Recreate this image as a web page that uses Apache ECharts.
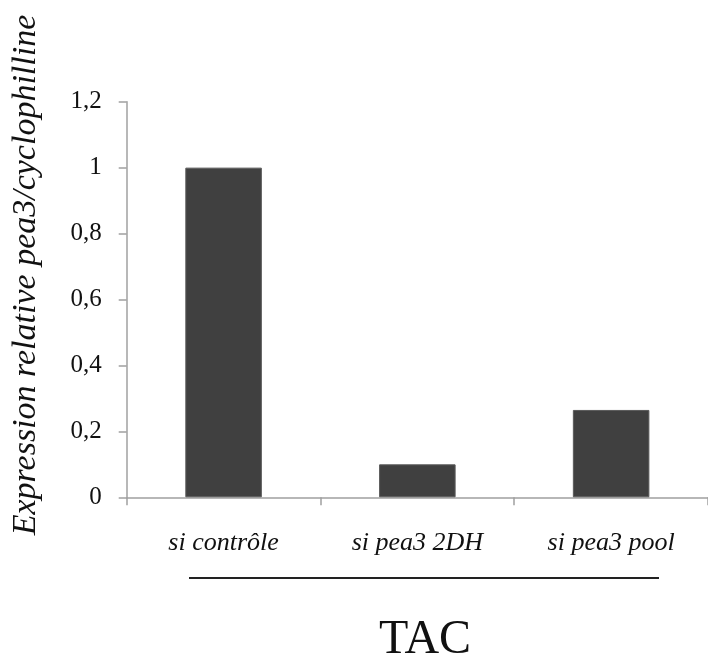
<!DOCTYPE html>
<html>
<head>
<meta charset="utf-8">
<script src="https://cdn.jsdelivr.net/npm/echarts@6/dist/echarts.min.js"></script>
<style>
html,body{margin:0;padding:0;background:#fff;}
#chart{width:708px;height:662px;}
</style>
</head>
<body>
<div id="chart"></div>
<script>
var categories = ['si contrôle', 'si pea3 2DH', 'si pea3 pool'];
var values = [1.0, 0.1, 0.265];
var yAxisTitle = 'Expression relative pea3/cyclophilline';
var groupLabel = 'TAC';

var chart = echarts.init(document.getElementById('chart'));
var serif = '"Liberation Serif", "DejaVu Serif", serif';
chart.setOption({
  animation: false,
  backgroundColor: '#ffffff',
  grid: { left: 126.7, top: 101.7, bottom: 164.7, right: -7.6, containLabel: false },
  xAxis: {
    type: 'category',
    data: categories,
    axisLine: { lineStyle: { color: '#a0a0a0', width: 1.5 } },
    axisTick: { show: true, length: 8, lineStyle: { color: '#a0a0a0', width: 1.5 } },
    axisLabel: { color: '#111', fontFamily: serif, fontStyle: 'italic', fontSize: 26, margin: 33 },
    splitLine: { show: false }
  },
  yAxis: {
    type: 'value',
    min: 0, max: 1.2, interval: 0.2,
    axisLine: { show: true, lineStyle: { color: '#a0a0a0', width: 1.5 } },
    axisTick: { show: true, length: 8, lineStyle: { color: '#a0a0a0', width: 1.5 } },
    splitLine: { show: false },
    axisLabel: {
      color: '#111', fontFamily: serif, fontSize: 25, margin: 25, padding: [10, 0, 0, 0],
      formatter: function (v) { return String(+v.toFixed(1)).replace('.', ','); }
    }
  },
  series: [{
    type: 'bar',
    data: values,
    barWidth: '39.5%',
    itemStyle: { color: '#404040', borderColor: '#5a5a5a', borderWidth: 1 }
  }],
  graphic: [
    {
      type: 'text', x: 26, y: 275, rotation: Math.PI / 2,
      style: { text: yAxisTitle, font: 'italic 34px ' + serif, fill: '#111', textAlign: 'center', textVerticalAlign: 'middle' }
    },
    {
      type: 'line', shape: { x1: 189, y1: 578, x2: 659, y2: 578 },
      style: { stroke: '#222', lineWidth: 2 }
    },
    {
      type: 'text', x: 425, y: 640,
      style: { text: groupLabel, font: '48px ' + serif, fill: '#111', textAlign: 'center', textVerticalAlign: 'middle' }
    }
  ]
});
</script>
</body>
</html>
